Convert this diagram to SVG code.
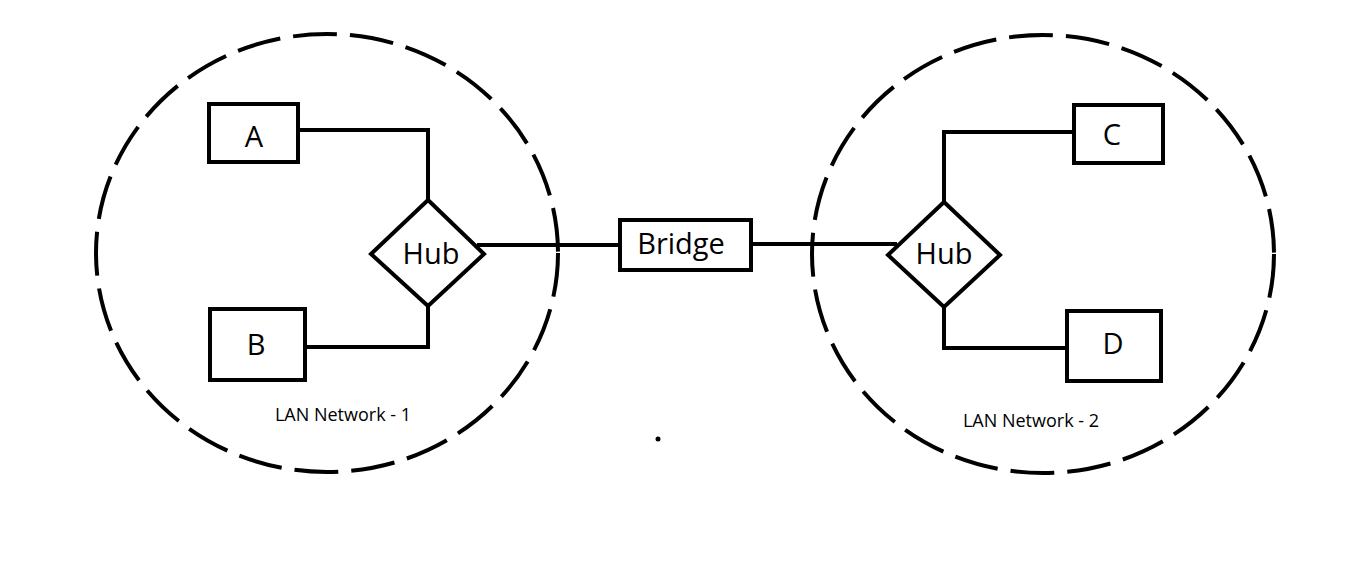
<svg xmlns="http://www.w3.org/2000/svg" width="1360" height="570" viewBox="0 0 1360 570">
<style>
.ln{stroke:#000;stroke-width:4;fill:none}
.box{stroke:#000;stroke-width:4;fill:#fff}
.lan{stroke:#000;stroke-width:4;fill:none;stroke-dasharray:44 13}
.lbl{font-family:"Open Sans","Noto Sans",sans-serif;font-size:29px;fill:#000;text-anchor:middle}
.cap{font-family:"Open Sans","Noto Sans",sans-serif;font-size:18px;fill:#000;text-anchor:middle}
</style>
<rect width="1360" height="570" fill="#fff"/>
<g id="lan1">
<ellipse class="lan" cx="327" cy="253" rx="231" ry="219"/>
<text class="cap" x="343" y="421">LAN Network - 1</text>
</g>
<g id="lan2">
<ellipse class="lan" cx="1043" cy="254" rx="231" ry="219"/>
<text class="cap" x="1031" y="427">LAN Network - 2</text>
</g>
<g id="connectors">
<polyline class="ln" points="298,130 428,130 428,200"/>
<polyline class="ln" points="428,306 428,347 305,347"/>
<line class="ln" x1="477" y1="245" x2="620" y2="245"/>
<line class="ln" x1="751" y1="244" x2="897" y2="244"/>
<polyline class="ln" points="944,202 944,132 1074,132"/>
<polyline class="ln" points="944,307 944,348 1067,348"/>
</g>
<g id="A">
<rect class="box" x="209" y="104" width="89" height="58"/>
<text class="lbl" x="254" y="147">A</text>
</g>
<g id="B">
<rect class="box" x="210" y="309" width="95" height="71"/>
<text class="lbl" x="256" y="355">B</text>
</g>
<g id="hub1">
<polygon class="box" points="428,200 484,254 428,306 371,254"/>
<text class="lbl" x="431" y="264">Hub</text>
</g>
<g id="bridge">
<rect class="box" x="620" y="220" width="131" height="50"/>
<text class="lbl" x="681" y="254">Bridge</text>
</g>
<g id="hub2">
<polygon class="box" points="944,202 1000,255 944,307 888,255"/>
<text class="lbl" x="944" y="264">Hub</text>
</g>
<g id="C">
<rect class="box" x="1074" y="105" width="89" height="58"/>
<text class="lbl" x="1112" y="145">C</text>
</g>
<g id="D">
<rect class="box" x="1067" y="311" width="94" height="70"/>
<text class="lbl" x="1113" y="354">D</text>
</g>
<circle cx="658" cy="439" r="2.5" fill="#000"/>
</svg>
